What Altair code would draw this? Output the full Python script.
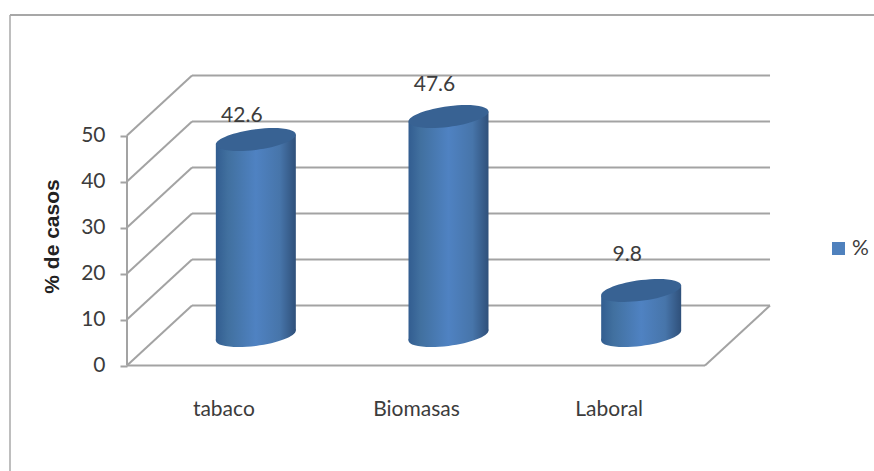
import json

import altair as alt
import pandas as pd

# Chart values
categories = ["tabaco", "Biomasas", "Laboral"]
percentages = [42.6, 47.6, 9.8]
y_ticks = [0, 10, 20, 30, 40, 50]
series_name = "%"

# Pseudo-3D layout: x runs in category slots, y in percentage points
PX_PER_SLOT = 192.67
PX_PER_UNIT = 4.6
ORIGIN_X = 127
ORIGIN_Y = 365.5
W, H = 874, 471
DEPTH_X = 65 / PX_PER_SLOT
DEPTH_Y = 60 / PX_PER_UNIT
RADIUS = 40 / PX_PER_SLOT
TILT = 5 / PX_PER_UNIT
FONT = "Lato"
FONT_SIZE = 21
TEXT = "#3c3c3c"
GRID = "#a3a3a3"
label_lift = {"tabaco": 23.5, "Biomasas": 32, "Laboral": 35}

x_scale = alt.Scale(domain=[-ORIGIN_X / PX_PER_SLOT, (W - ORIGIN_X) / PX_PER_SLOT], nice=False, zero=False)
y_scale = alt.Scale(domain=[(ORIGIN_Y - H) / PX_PER_UNIT, ORIGIN_Y / PX_PER_UNIT], nice=False, zero=False)


def gx(field, **kw):
    return alt.X(field, type="quantitative", scale=x_scale, axis=None, **kw)


def gy(field, **kw):
    return alt.Y(field, type="quantitative", scale=y_scale, axis=None, **kw)


# Wall and floor lines of the box
segments = []
for t in y_ticks:
    segments.append({"x": 0, "x2": DEPTH_X, "y": t, "y2": t + DEPTH_Y})
    segments.append({"x": DEPTH_X, "x2": 3 + DEPTH_X, "y": t + DEPTH_Y, "y2": t + DEPTH_Y})
segments.append({"x": 0, "x2": 0, "y": 0, "y2": max(y_ticks)})
segments.append({"x": 0, "x2": 3, "y": 0, "y2": 0})
segments.append({"x": 3, "x2": 3 + DEPTH_X, "y": 0, "y2": DEPTH_Y})
segments = pd.DataFrame(segments)

# Cylinders stand halfway into the box depth
bars = pd.DataFrame({"category": categories, "value": percentages})
bars["cx"] = [i + 0.5 + DEPTH_X / 2 for i in range(len(categories))]
bars["base"] = DEPTH_Y / 2
bars["top"] = bars["value"] + DEPTH_Y / 2
bars["label_y"] = [row.top + label_lift[row.category] / PX_PER_UNIT for row in bars.itertuples()]
bars["series"] = series_name

body_rows = []
for row in bars.itertuples():
    body_rows.append({"category": row.category, "x": row.cx - RADIUS, "y": row.top - TILT, "y0": row.base - TILT})
    body_rows.append({"category": row.category, "x": row.cx + RADIUS, "y": row.top + TILT, "y0": row.base + TILT})
body = pd.DataFrame(body_rows)

# Sheared ellipse as a unit-sized symbol path
k = 0.5523
ax, ay = 1.0, -0.125
bx, by = 0.0, 0.26


def pt(u, v):
    return f"{u * ax + v * bx:.4f},{u * ay + v * by:.4f}"


ELLIPSE = (
    f"M{pt(1, 0)}"
    f"C{pt(1, k)} {pt(k, 1)} {pt(0, 1)}"
    f"C{pt(-k, 1)} {pt(-1, k)} {pt(-1, 0)}"
    f"C{pt(-1, -k)} {pt(-k, -1)} {pt(0, -1)}"
    f"C{pt(k, -1)} {pt(1, -k)} {pt(1, 0)}Z"
)
ELLIPSE_SIZE = (2 * RADIUS * PX_PER_SLOT) ** 2

shade = alt.Gradient(
    gradient="linear",
    x1=0, y1=0, x2=1, y2=0,
    stops=[
        alt.GradientStop(offset=0, color="#325d90"),
        alt.GradientStop(offset=0.15, color="#41709f"),
        alt.GradientStop(offset=0.5, color="#4f82c2"),
        alt.GradientStop(offset=0.8, color="#4775aa"),
        alt.GradientStop(offset=1, color="#2f507a"),
    ],
)

# Axes sit in the first layer; their offsets pull them in to the box front
axes = alt.Chart(pd.DataFrame({"x": [0], "y": [0]})).mark_point(opacity=0).encode(
    x=alt.X(
        "x:Q",
        scale=x_scale,
        axis=alt.Axis(
            values=[i + 0.5 for i in range(len(categories))],
            labelExpr=f"{json.dumps(categories)}[floor(datum.value)]",
            title=None, domain=False, ticks=False, grid=False,
            offset=ORIGIN_Y - H, labelPadding=33,
            labelFont=FONT, labelFontSize=FONT_SIZE, labelColor=TEXT,
        ),
    ),
    y=alt.Y(
        "y:Q",
        scale=y_scale,
        axis=alt.Axis(
            values=y_ticks, title="% de casos", domain=False, grid=False,
            offset=-ORIGIN_X, tickSize=7, tickWidth=2, tickColor=GRID,
            labelPadding=15, labelFont=FONT, labelFontSize=FONT_SIZE, labelColor=TEXT,
            titleFont="Liberation Sans", titleFontSize=21, titleFontWeight="bold", titleColor="#222222",
            titleX=52 - ORIGIN_X, titleY=236, titleAlign="center", titleBaseline="middle", titleAngle=270,
        ),
    ),
)

# Outer chart frame, open at the right and bottom
frame_top = alt.Chart(pd.DataFrame({"a": [0]})).mark_rule(color="#8a8a8a", strokeWidth=1.5).encode(
    x=alt.value(10), x2=alt.value(W), y=alt.value(15)
)
frame_left = alt.Chart(pd.DataFrame({"a": [0]})).mark_rule(color="#a8a8a8", strokeWidth=1.5).encode(
    x=alt.value(10), y=alt.value(15), y2=alt.value(H)
)

lines = alt.Chart(segments).mark_rule(color=GRID, strokeWidth=2).encode(
    x=gx("x"), x2="x2", y=gy("y"), y2="y2"
)

bottoms = alt.Chart(bars).mark_point(
    shape=ELLIPSE, filled=True, fill=shade, size=ELLIPSE_SIZE, opacity=1, strokeWidth=0
).encode(x=gx("cx"), y=gy("base"))

bodies = alt.Chart(body).mark_area(fill=shade, opacity=1).encode(
    x=gx("x"), y=gy("y"), y2="y0", detail="category:N"
)

tops = alt.Chart(bars).mark_point(
    shape=ELLIPSE, filled=True, fill="#386293", size=ELLIPSE_SIZE, opacity=1, strokeWidth=0
).encode(x=gx("cx"), y=gy("top"))

value_labels = alt.Chart(bars).mark_text(
    font=FONT, fontSize=FONT_SIZE, color=TEXT, dx=-14
).encode(x=gx("cx"), y=gy("label_y"), text=alt.Text("value:Q", format=".1f"))

legend_key = alt.Chart(bars.head(1)).mark_square(size=0).encode(
    x=gx("cx"),
    y=gy("base"),
    color=alt.Color(
        "series:N",
        scale=alt.Scale(range=["#4f81bd"]),
        legend=alt.Legend(
            title=None, orient="none", legendX=828, legendY=238,
            symbolType="square", symbolSize=170, symbolStrokeWidth=0, symbolOpacity=1,
            labelFont=FONT, labelFontSize=FONT_SIZE, labelColor=TEXT, labelOffset=3,
        ),
    ),
)

chart = (
    alt.layer(axes, frame_top, frame_left, lines, bottoms, bodies, tops, value_labels, legend_key)
    .resolve_axis(x="independent", y="independent")
    .properties(width=W, height=H, padding=0, autosize=alt.AutoSizeParams(type="none"), background="white")
    .configure_view(stroke=None)
)

chart.save("out.html", embed_options={"renderer": "svg", "actions": False})
